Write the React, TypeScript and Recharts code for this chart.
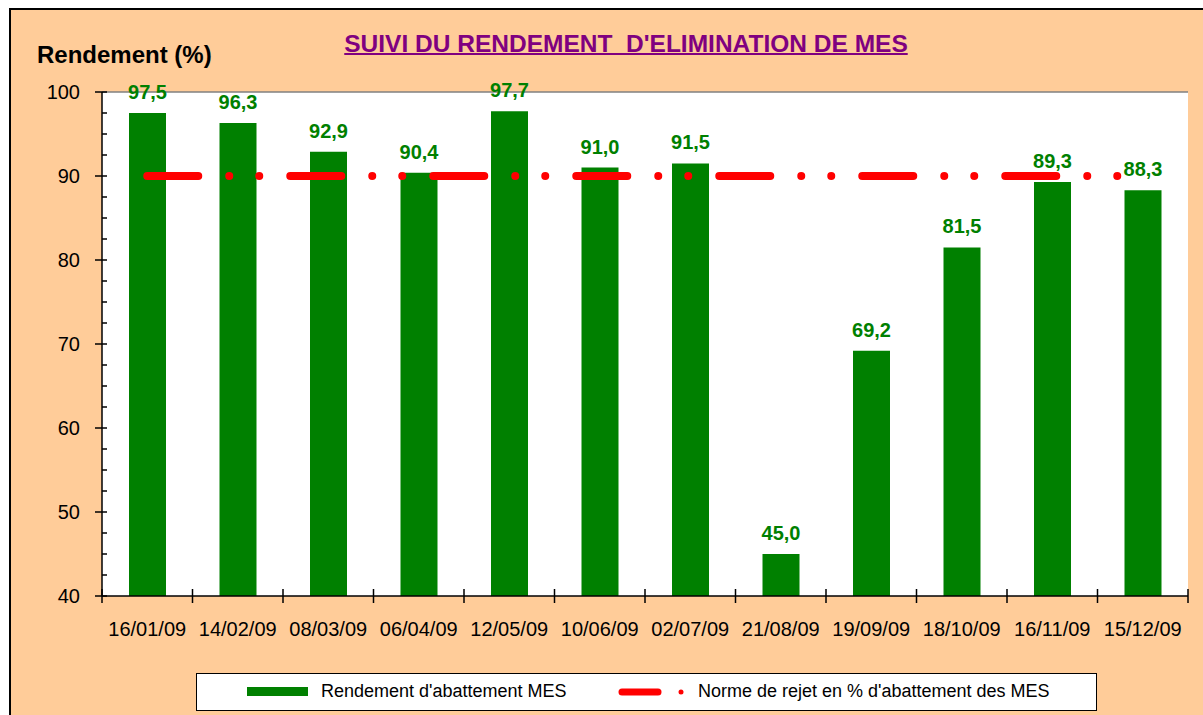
import React from "react";
import {
  ComposedChart,
  Bar,
  Line,
  XAxis,
  YAxis,
  CartesianGrid,
  Legend,
  LabelList,
  ReferenceLine,
} from "recharts";

const FONT = '"Liberation Sans", Arial, sans-serif';

const dates = [
  "16/01/09",
  "14/02/09",
  "08/03/09",
  "06/04/09",
  "12/05/09",
  "10/06/09",
  "02/07/09",
  "21/08/09",
  "19/09/09",
  "18/10/09",
  "16/11/09",
  "15/12/09",
];
const rendement = [97.5, 96.3, 92.9, 90.4, 97.7, 91.0, 91.5, 45.0, 69.2, 81.5, 89.3, 88.3];
const norme = [90, 90, 90, 90, 90, 90, 90, 90, 90, 90, 90, 90];

const seriesNames = [
  "Rendement d'abattement MES",
  "Norme de rejet en % d'abattement des MES",
];

const yMajorTicks = [40, 50, 60, 70, 80, 90, 100];
const yAllTicks = [
  40, 42.5, 45, 47.5, 50, 52.5, 55, 57.5, 60, 62.5, 65, 67.5, 70, 72.5, 75, 77.5,
  80, 82.5, 85, 87.5, 90, 92.5, 95, 97.5, 100,
];

const data = dates.map((date, i) => ({
  date,
  rendement: rendement[i],
  norme: norme[i],
}));

const fmt = (v: any) => Number(v).toFixed(1).replace(".", ",");

// category labels + tick marks on the band boundaries (Excel style)
function DateTick(props: any) {
  const { x, y, payload, index, visibleTicksCount } = props;
  const half = payload.offset || 0;
  const isLast = index === visibleTicksCount - 1;
  return (
    <g>
      <line x1={x - half} x2={x - half} y1={y - 7} y2={y + 7} stroke="#000" strokeWidth={1.5} />
      {isLast && (
        <line x1={x + half} x2={x + half} y1={y - 7} y2={y + 7} stroke="#000" strokeWidth={1.5} />
      )}
      <text
        x={x}
        y={y + 26}
        dy="0.71em"
        textAnchor="middle"
        fill="#000"
        fontSize={20}
        fontFamily={FONT}
      >
        {payload.value}
      </text>
    </g>
  );
}

// major ticks cross the axis with a label, minor ticks point inward
function ValueTick(props: any) {
  const { x, y, payload } = props;
  const major = yMajorTicks.includes(payload.value);
  return (
    <g>
      <line x1={major ? x - 7 : x} x2={x + 5} y1={y} y2={y} stroke="#000" strokeWidth={1.5} />
      {major && (
        <text
          x={x - 22}
          y={y}
          dy="0.355em"
          textAnchor="end"
          fill="#000"
          fontSize={20}
          fontFamily={FONT}
        >
          {payload.value}
        </text>
      )}
    </g>
  );
}

function LegendBox() {
  return (
    <div
      style={{
        position: "relative",
        height: 38,
        boxSizing: "border-box",
        border: "1.5px solid #000",
        background: "#fff",
        fontFamily: FONT,
        fontSize: 18,
        color: "#000",
        whiteSpace: "nowrap",
      }}
    >
      <svg style={{ position: "absolute", left: 50, top: 13 }} width={62} height={10}>
        <rect x={0} y={0} width={61} height={9} fill="#008000" />
      </svg>
      <span style={{ position: "absolute", left: 124, top: 7 }}>{seriesNames[0]}</span>
      <svg style={{ position: "absolute", left: 420, top: 11 }} width={80} height={14}>
        <line x1={5} y1={7} x2={41} y2={7} stroke="#FF0000" strokeWidth={7} strokeLinecap="round" />
        <circle cx={64} cy={7} r={2.5} fill="#FF0000" />
      </svg>
      <span style={{ position: "absolute", left: 501, top: 7 }}>{seriesNames[1]}</span>
    </div>
  );
}

export default function App() {
  return (
    <div
      style={{
        position: "fixed",
        left: 0,
        top: 0,
        width: 1203,
        height: 715,
        overflow: "hidden",
        background: "#fff",
      }}
    >
      <div
        style={{
          position: "absolute",
          left: 9,
          top: 8,
          width: 1300,
          height: 800,
          background: "#FFCC99",
          borderLeft: "2px solid #000",
          borderTop: "2px solid #000",
        }}
      />
      <div style={{ position: "absolute", left: 0, top: 0 }}>
        <ComposedChart
          width={1203}
          height={715}
          data={data}
          margin={{ top: 92, right: 15, left: 0, bottom: 4 }}
        >
          <CartesianGrid horizontal={false} vertical={false} fill="#fff" />
          <XAxis
            dataKey="date"
            interval={0}
            height={77}
            tickLine={false}
            tickSize={0}
            tickMargin={0}
            axisLine={{ stroke: "#000", strokeWidth: 1.5 }}
            tick={<DateTick />}
          />
          <YAxis
            domain={[40, 100]}
            ticks={yAllTicks}
            interval={0}
            width={102}
            tickSize={0}
            tickMargin={0}
            tickLine={false}
            axisLine={{ stroke: "#000", strokeWidth: 1.5 }}
            tick={<ValueTick />}
          />
          <YAxis
            yAxisId="yr"
            orientation="right"
            domain={[40, 100]}
            allowDataOverflow
            width={0}
            tick={false}
            tickLine={false}
            axisLine={{ stroke: "#808080", strokeWidth: 1.5 }}
          />
          <ReferenceLine y={100} stroke="#808080" strokeWidth={1.5} />
          <Bar
            dataKey="rendement"
            name={seriesNames[0]}
            fill="#008000"
            barSize={37}
            isAnimationActive={false}
          >
            <LabelList
              dataKey="rendement"
              position="top"
              offset={14}
              formatter={fmt}
              fill="#008000"
              fontSize={20}
              fontWeight="bold"
              fontFamily={FONT}
            />
          </Bar>
          <Line
            yAxisId="yr"
            type="linear"
            dataKey="norme"
            name={seriesNames[1]}
            stroke="#FF0000"
            strokeWidth={8}
            strokeLinecap="round"
            strokeDasharray="51 31 0 30 0 31"
            dot={false}
            activeDot={false}
            isAnimationActive={false}
          />
          <Legend
            verticalAlign="bottom"
            height={38}
            wrapperStyle={{ left: 196, width: 901, bottom: 4, height: 38 }}
            content={() => <LegendBox />}
          />
        </ComposedChart>
      </div>
      <div
        style={{
          position: "absolute",
          left: 0,
          width: 1252,
          top: 32,
          textAlign: "center",
          fontFamily: FONT,
          fontSize: 24.5,
          lineHeight: "24px",
          fontWeight: "bold",
          color: "#800080",
          whiteSpace: "pre",
          pointerEvents: "none",
        }}
      >
        <span style={{ textDecoration: "underline", textDecorationThickness: 2 }}>
          {"SUIVI DU RENDEMENT  D'ELIMINATION DE MES"}
        </span>
      </div>
      <div
        style={{
          position: "absolute",
          left: 37,
          top: 43,
          fontFamily: FONT,
          fontSize: 24,
          lineHeight: "24px",
          fontWeight: "bold",
          color: "#000",
          whiteSpace: "nowrap",
          pointerEvents: "none",
        }}
      >
        Rendement (%)
      </div>
    </div>
  );
}
